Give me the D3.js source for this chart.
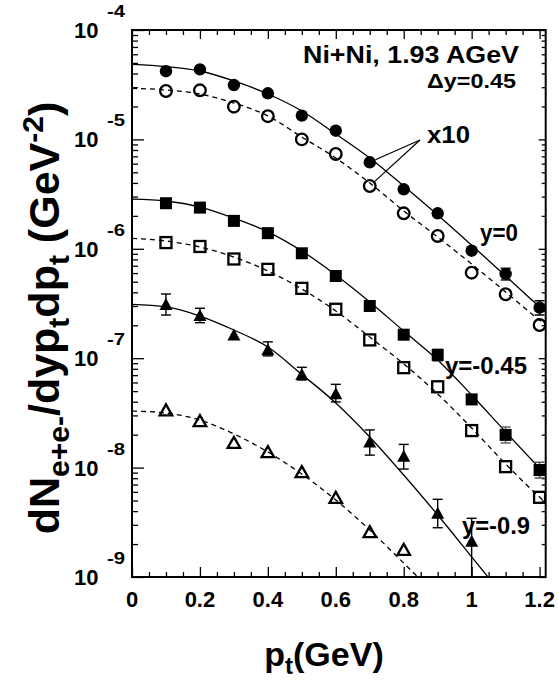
<!DOCTYPE html>
<html><head><meta charset="utf-8">
<script src="https://cdn.jsdelivr.net/npm/d3@7"></script>
<style>
html,body{margin:0;padding:0;background:#fff;}
svg{display:block;}
text{font-family:"Liberation Sans",Arial,Helvetica,sans-serif;font-weight:bold;fill:#000;}
</style></head><body>
<svg id="chart" width="558" height="681"></svg>
<script>
// ---------------- data ----------------
const ptAll = [0.1,0.2,0.3,0.4,0.5,0.6,0.7,0.8,0.9,1.0,1.1,1.2];
const ptTriFilled = [0.1,0.2,0.3,0.4,0.5,0.6,0.7,0.8,0.9,1.0];
const ptTriOpen = [0.1,0.2,0.3,0.4,0.5,0.6,0.7,0.8];

// y = 0 (x10)
const circleFilled = [4.2e-5,4.37e-5,3.14e-5,2.64e-5,1.65e-5,1.20e-5,6.18e-6,3.50e-6,2.11e-6,9.6e-7,5.89e-7,2.90e-7];
const circleFilledLo = [null,null,null,null,null,null,null,null,null,null,5.19e-7,2.48e-7];
const circleFilledHi = [null,null,null,null,null,null,null,null,null,null,6.64e-7,3.35e-7];
const circleOpen = [2.77e-5,2.81e-5,1.99e-5,1.63e-5,1.0e-5,7.36e-6,3.75e-6,2.11e-6,1.31e-6,6.05e-7,3.84e-7,2.01e-7];
// y = -0.45
const squareFilled = [2.61e-6,2.38e-6,1.80e-6,1.39e-6,9.1e-7,5.64e-7,3.0e-7,1.64e-7,1.07e-7,4.2e-8,1.99e-8,9.5e-9];
const squareFilledLo = [null,null,null,null,null,null,null,null,9.42e-8,null,1.68e-8,8.03e-9];
const squareFilledHi = [null,null,null,null,null,null,null,null,1.21e-7,null,2.35e-8,1.12e-8];
const squareOpen = [1.14e-6,1.05e-6,8.07e-7,6.49e-7,4.35e-7,2.80e-7,1.47e-7,8.19e-8,5.48e-8,2.18e-8,1.02e-8,5.35e-9];
// y = -0.9
const triFilled = [3.13e-7,2.48e-7,1.65e-7,1.21e-7,7.18e-8,4.78e-8,1.73e-8,1.28e-8,3.87e-9,2.15e-9];
const triFilledLo = [2.48e-7,2.11e-7,null,1.05e-7,6.32e-8,3.98e-8,1.30e-8,9.7e-9,2.82e-9,5e-10];
const triFilledHi = [3.86e-7,2.86e-7,null,1.41e-7,8.26e-8,5.77e-8,2.21e-8,1.63e-8,5.13e-9,3.44e-9];
const triOpen = [3.37e-8,2.69e-8,1.70e-8,1.40e-8,9.18e-9,5.35e-9,2.60e-9,1.79e-9];

// fit curves
const curvePt = [0,0.1,0.2,0.3,0.4,0.5,0.6,0.7,0.8,0.9,1.0,1.1,1.2,1.22];
const curveA = [4.86e-5,4.64e-5,4.22e-5,3.42e-5,2.60e-5,1.82e-5,1.12e-5,6.76e-6,3.75e-6,2.04e-6,1.08e-6,5.64e-7,2.94e-7,2.59e-7];
const curveB = [2.93e-5,2.83e-5,2.60e-5,2.15e-5,1.64e-5,1.05e-5,6.76e-6,3.99e-6,2.22e-6,1.28e-6,7.26e-7,4.03e-7,2.23e-7,2.01e-7];
const curveC = [2.85e-6,2.735e-6,2.41e-6,1.91e-6,1.43e-6,9.55e-7,5.77e-7,3.27e-7,1.77e-7,9.64e-8,4.61e-8,2.12e-8,9.91e-9,8.55e-9];
const curveD = [1.247e-6,1.178e-6,1.039e-6,8.41e-7,6.27e-7,4.29e-7,2.70e-7,1.56e-7,8.86e-8,4.71e-8,2.30e-8,1.08e-8,5.38e-9,4.74e-9];
const curveEPt = [0,0.1,0.2,0.3,0.4,0.5,0.6,0.7,0.8,0.9,1.0,1.06];
const curveE = [3.11e-7,2.94e-7,2.43e-7,1.81e-7,1.265e-7,7.10e-8,3.90e-8,1.905e-8,8.55e-9,3.69e-9,1.53e-9,9.0e-10];
const curveFPt = [0,0.1,0.2,0.3,0.4,0.5,0.6,0.7,0.8,0.85];
const curveF = [3.29e-8,3.155e-8,2.72e-8,2.03e-8,1.39e-8,8.73e-9,5.06e-9,2.69e-9,1.34e-9,9.4e-10];

const xTickLabels = ["0","0.2","0.4","0.6","0.8","1","1.2"];
const xTickValues = [0,0.2,0.4,0.6,0.8,1.0,1.2];
const yExponents = [-9,-8,-7,-6,-5,-4];

// ---------------- layout ----------------
const svg = d3.select("#chart");
const L = 132, R = 545.7, T = 30, B = 577;
const x = d3.scaleLinear().domain([0,1.218]).range([L,R]);
const y = d3.scaleLog().domain([1e-9,1e-4]).range([B,T]);

svg.append("defs").append("clipPath").attr("id","clip")
  .append("rect").attr("x",L).attr("y",T).attr("width",R-L).attr("height",B-T);

// ticks
const yMajor = yExponents.map(e => Math.pow(10,e));
const yMinor = [];
yExponents.slice(0,-1).forEach(e => { for (let k=2;k<=9;k++) yMinor.push(k*Math.pow(10,e)); });
const xMinor = d3.range(0,1.2001,0.05).filter(v => Math.abs(v/0.2 - Math.round(v/0.2))>1e-6);

function axisG(axis, tx, ty){
  const g = svg.append("g").attr("transform",`translate(${tx},${ty})`).call(axis);
  g.select(".domain").remove();
  g.selectAll("text").remove();
  g.selectAll("line").attr("stroke","#000").attr("stroke-width",1.3);
  return g;
}
axisG(d3.axisRight(y).tickValues(yMajor).tickSize(12), L, 0);
axisG(d3.axisRight(y).tickValues(yMinor).tickSize(6), L, 0);
axisG(d3.axisLeft(y).tickValues(yMajor).tickSize(7), R, 0);
axisG(d3.axisLeft(y).tickValues(yMinor).tickSize(4), R, 0);
axisG(d3.axisTop(x).tickValues(xTickValues).tickSize(10), 0, B);
axisG(d3.axisTop(x).tickValues(xMinor).tickSize(5), 0, B);
axisG(d3.axisBottom(x).tickValues(xTickValues).tickSize(9), 0, T);
axisG(d3.axisBottom(x).tickValues(xMinor).tickSize(5), 0, T);

svg.append("rect").attr("x",L).attr("y",T).attr("width",R-L).attr("height",B-T)
  .attr("fill","none").attr("stroke","#000").attr("stroke-width",2);

// tick labels
yMajor.forEach((v,i) => {
  svg.append("text").attr("x",98.5).attr("y",y(v)+8).attr("text-anchor","end")
    .attr("font-size",22).text("10");
  svg.append("text").attr("x",107).attr("y",y(v)-13).attr("text-anchor","start")
    .attr("font-size",16).attr("textLength",18).attr("lengthAdjust","spacingAndGlyphs")
    .text(String(yExponents[i]));
});
xTickValues.forEach((v,i) => {
  svg.append("text").attr("x",x(v)).attr("y",607).attr("text-anchor","middle")
    .attr("font-size",22).text(xTickLabels[i]);
});

// curves
const plot = svg.append("g").attr("clip-path","url(#clip)");
const line = d3.line().x(d=>x(d[0])).y(d=>y(d[1])).curve(d3.curveMonotoneX);
function drawCurve(px, vals, dashed){
  plot.append("path").datum(px.map((p,i)=>[p,vals[i]])).attr("d",line)
    .attr("fill","none").attr("stroke","#000").attr("stroke-width",1.3)
    .attr("stroke-dasharray",dashed?"5,4":null);
}
drawCurve(curvePt, curveA, false);
drawCurve(curvePt, curveB, true);
drawCurve(curvePt, curveC, false);
drawCurve(curvePt, curveD, true);
drawCurve(curveEPt, curveE, false);
drawCurve(curveFPt, curveF, true);

// error bars
function errBars(px, lo, hi, color){
  px.forEach((p,i) => {
    if (lo[i]==null) return;
    const cx = x(p);
    plot.append("line").attr("x1",cx).attr("x2",cx).attr("y1",y(lo[i])).attr("y2",y(hi[i]))
      .attr("stroke",color).attr("stroke-width",1.4);
    [lo[i],hi[i]].forEach(v => {
      plot.append("line").attr("x1",cx-5).attr("x2",cx+5).attr("y1",y(v)).attr("y2",y(v))
        .attr("stroke",color).attr("stroke-width",1.4);
    });
  });
}
errBars(ptAll, circleFilledLo, circleFilledHi, "#000");
errBars(ptAll, squareFilledLo, squareFilledHi, "#555");
errBars(ptTriFilled, triFilledLo, triFilledHi, "#000");

// markers
function triPath(cx, cy, w, h){
  return `M${cx-w/2},${cy+h/2}L${cx+w/2},${cy+h/2}L${cx},${cy-h/2}Z`;
}
function markers(px, vals, type, filled){
  const g = plot.append("g");
  px.forEach((p,i) => {
    const cx = x(p), cy = y(vals[i]);
    let el;
    if (type==="circle") {
      el = g.append("circle").attr("cx",cx).attr("cy",cy).attr("r", filled?6.2:5.8);
    } else if (type==="square") {
      const s = filled?12:11;
      el = g.append("rect").attr("x",cx-s/2).attr("y",cy-s/2).attr("width",s).attr("height",s);
    } else {
      el = filled ? g.append("path").attr("d",triPath(cx,cy,13,12))
                  : g.append("path").attr("d",triPath(cx,cy,12.5,11));
    }
    if (filled) el.attr("fill","#000");
    else el.attr("fill","none").attr("stroke","#000").attr("stroke-width",2.3);
  });
}
markers(ptAll, circleFilled, "circle", true);
markers(ptAll, circleOpen, "circle", false);
markers(ptAll, squareFilled, "square", true);
markers(ptAll, squareOpen, "square", false);
markers(ptTriFilled, triFilled, "tri", true);
markers(ptTriOpen, triOpen, "tri", false);

// annotations
function label(tx, ty, size, len, str, anchor){
  return svg.append("text").attr("x",tx).attr("y",ty).attr("text-anchor",anchor||"start")
    .attr("font-size",size).attr("textLength",len).attr("lengthAdjust","spacingAndGlyphs").text(str);
}
label(519, 63, 24, 216, "Ni+Ni, 1.93 AGeV", "end");
label(516, 88, 21, 89, "\u0394y=0.45", "end");
label(427, 142.5, 23, 43, "x10");
const ax = 420, ay = 140;
[[0.7, circleFilled[6], 6.2],[0.7, circleOpen[6], 6.5]].forEach(([p,v,r]) => {
  const px = x(p), py = y(v);
  const dx = ax-px, dy = ay-py, len = Math.hypot(dx,dy);
  svg.append("line").attr("x1",ax).attr("y1",ay)
    .attr("x2",px+dx/len*r).attr("y2",py+dy/len*r)
    .attr("stroke","#000").attr("stroke-width",1.2);
});
label(480, 241, 23, 38, "y=0");
label(445, 374, 23, 82, "y=-0.45");
label(462, 534, 23, 68, "y=-0.9");

// axis titles
const xt = svg.append("text").attr("x",324).attr("y",666).attr("text-anchor","middle").attr("font-size",34);
xt.append("tspan").text("p");
xt.append("tspan").attr("font-size",24).attr("dy",8).text("t");
xt.append("tspan").attr("dy",-8).text("(GeV)");

const yt = svg.append("text").attr("transform","translate(59,318) rotate(-90)")
  .attr("text-anchor","middle").attr("font-size",43);
yt.append("tspan").text("dN");
yt.append("tspan").attr("font-size",30).attr("dy",10).text("e+e-");
yt.append("tspan").attr("dy",-10).text("/dyp");
yt.append("tspan").attr("font-size",30).attr("dy",10).text("t");
yt.append("tspan").attr("dy",-10).text("dp");
yt.append("tspan").attr("font-size",30).attr("dy",10).text("t");
yt.append("tspan").attr("dy",-10).text(" (GeV");
yt.append("tspan").attr("font-size",30).attr("dy",-16).text("-2");
yt.append("tspan").attr("dy",16).text(")");
</script>
</body></html>
